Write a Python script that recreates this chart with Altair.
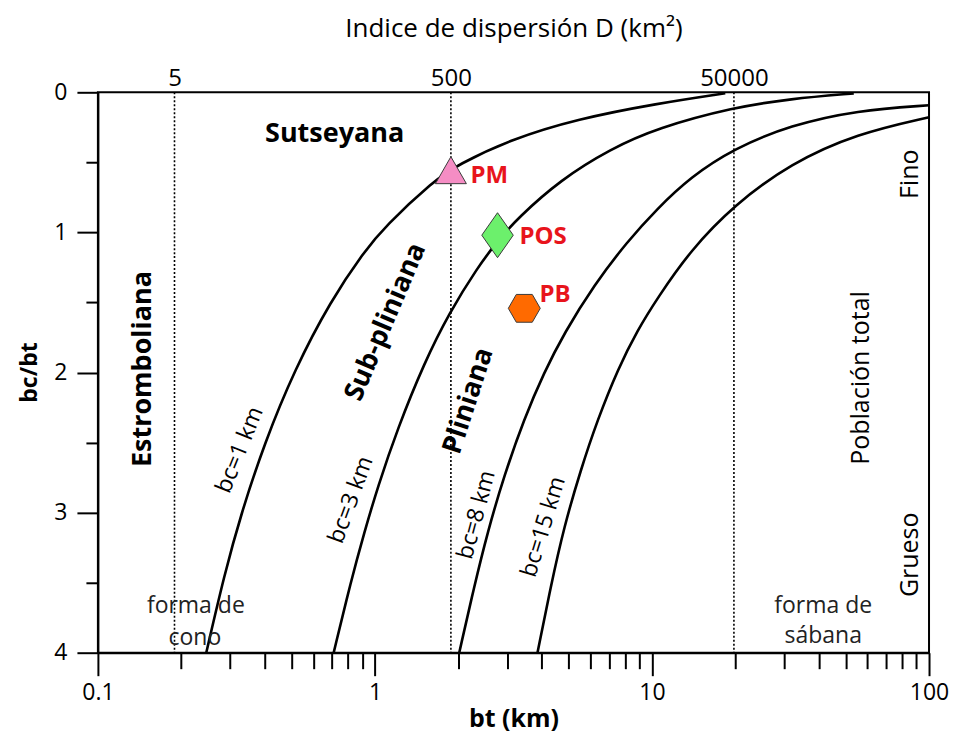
import altair as alt
import pandas as pd

FONT = "Open Sans"

# ---------------- data ----------------
curve_names = ["bc=1 km", "bc=3 km", "bc=8 km", "bc=15 km"]

bt_bc1 = [0.2461, 0.2863, 0.3286, 0.3991, 0.5132, 0.6921, 0.916, 1.081, 1.637, 1.987, 3.085, 5.381, 10.45, 18.39]
ratio_bc1 = [4.0, 3.44, 3.01, 2.505, 1.978, 1.488, 1.135, 0.962, 0.629, 0.518, 0.337, 0.190, 0.080, 0.007]

bt_bc3 = [0.7096, 0.819, 0.916, 1.022, 1.207, 1.507, 1.854, 2.346, 2.769, 3.269, 4.672, 7.076, 10.45, 19.76, 31.53, 53.5]
ratio_bc3 = [4.0, 3.49, 3.14, 2.82, 2.40, 1.93, 1.575, 1.25, 1.062, 0.90, 0.625, 0.405, 0.255, 0.107, 0.047, 0.008]

bt_bc8 = [2.015, 2.282, 2.549, 2.928, 3.456, 4.079, 4.818, 6.180, 8.147, 10.45, 13.78, 19.76, 31.62, 55.02, 100.0]
ratio_bc8 = [4.0, 3.527, 3.14, 2.735, 2.33, 2.0, 1.72, 1.375, 1.065, 0.83, 0.605, 0.401, 0.235, 0.128, 0.093]

bt_bc15 = [3.861, 4.311, 4.818, 5.531, 6.354, 7.561, 8.854, 10.45, 13.78, 19.76, 31.62, 55.02, 100.0]
ratio_bc15 = [4.0, 3.527, 3.099, 2.695, 2.339, 1.968, 1.70, 1.47, 1.127, 0.806, 0.508, 0.294, 0.178]

# dispersion index D (km2) reference lines
dispersion_labels = ["5", "500", "50000"]
dispersion_bt = [0.189, 1.88, 19.76]

# samples
sample_names = ["PM", "POS", "PB"]
sample_bt = [1.88, 2.77, 3.46]
sample_ratio = [0.556, 1.02, 1.542]
sample_label_bt = [2.213, 3.324, 3.925]
sample_label_ratio = [0.595, 1.030, 1.447]

# axis ticks
x_major = [0.1, 1, 10, 100]
x_minor = [0.2, 0.3, 0.4, 0.5, 0.6, 0.7, 0.8, 0.9,
           2, 3, 4, 5, 6, 7, 8, 9,
           20, 30, 40, 50, 60, 70, 80, 90]
y_major = [0, 1, 2, 3, 4]
y_minor = [0.5, 1.5, 2.5, 3.5]

# annotations (anchors in data units)
region_text = ["Sutseyana", "Estromboliana", "Sub-pliniana", "Pliniana"]
region_bt = [0.7155, 0.1453, 1.093, 2.177]
region_ratio = [0.297, 1.975, 1.640, 2.203]
region_angle = [0, 270, 293, 288]

curve_label_bt = [0.3252, 0.819, 2.327, 4.058]
curve_label_ratio = [2.553, 2.909, 3.016, 3.102]
curve_label_angle = [292, 290, 285, 287]

side_text = ["Población total", "Fino", "Grueso"]
side_bt = [56.9, 85.5, 85.5]
side_ratio = [2.039, 0.585, 3.301]

shape_text = ["forma de", "cono", "forma de", "sábana"]
shape_bt = [0.2257, 0.2238, 41.5, 41.5]
shape_ratio = [3.665, 3.893, 3.665, 3.879]

# ---------------- tables ----------------
curves = pd.concat([
    pd.DataFrame({"curve": curve_names[0], "bt": bt_bc1, "ratio": ratio_bc1}),
    pd.DataFrame({"curve": curve_names[1], "bt": bt_bc3, "ratio": ratio_bc3}),
    pd.DataFrame({"curve": curve_names[2], "bt": bt_bc8, "ratio": ratio_bc8}),
    pd.DataFrame({"curve": curve_names[3], "bt": bt_bc15, "ratio": ratio_bc15}),
], ignore_index=True)

disp = pd.DataFrame({"bt": dispersion_bt, "label": dispersion_labels})
samples = pd.DataFrame({"sample": sample_names, "bt": sample_bt, "ratio": sample_ratio})
sample_lbl = pd.DataFrame({"sample": sample_names, "bt": sample_label_bt, "ratio": sample_label_ratio})
regions = pd.DataFrame({"text": region_text, "bt": region_bt, "ratio": region_ratio, "angle": region_angle})
curve_lbl = pd.DataFrame({"text": curve_names, "bt": curve_label_bt, "ratio": curve_label_ratio, "angle": curve_label_angle})
sides = pd.DataFrame({"text": side_text, "bt": side_bt, "ratio": side_ratio})
shapes = pd.DataFrame({"text": shape_text, "bt": shape_bt, "ratio": shape_ratio})

# ---------------- scales & axes ----------------
xscale = alt.Scale(type="log", domain=[0.1, 100], nice=False)
yscale = alt.Scale(domain=[0, 4], reverse=True, nice=False)

top_expr = " : ".join(
    f"datum.value == {v} ? '{l}'" for v, l in zip(dispersion_bt[:-1], dispersion_labels[:-1])
) + f" : '{dispersion_labels[-1]}'"

top_axis = alt.Axis(orient="top", values=dispersion_bt, labelExpr=top_expr,
                    ticks=False, tickSize=0, domain=False, grid=False,
                    labelFont=FONT, labelFontSize=24, labelColor="black",
                    labelPadding=2, labelFlush=False,
                    titleFont=FONT, titleFontSize=26, titleFontWeight="normal",
                    titleColor="black", titleY=-64, titleBaseline="middle")

x_major_axis = alt.Axis(orient="bottom", values=x_major, format="~g",
                        tickSize=23, tickWidth=2, tickColor="black",
                        domainColor="black", domainWidth=2, grid=False,
                        labelFont=FONT, labelFontSize=23, labelColor="black",
                        labelPadding=6, labelFlush=False,
                        titleFont=FONT, titleFontSize=25, titleFontWeight="bold",
                        titleColor="black", titleY=66, titleBaseline="middle")

x_minor_axis = alt.Axis(orient="bottom", values=x_minor, tickSize=16, tickWidth=2,
                        tickColor="black", labels=False, domain=False, grid=False)

y_major_axis = alt.Axis(orient="left", values=y_major, format="d",
                        tickSize=21, tickWidth=2, tickColor="black",
                        domainColor="black", domainWidth=2, grid=False,
                        labelFont=FONT, labelFontSize=23, labelColor="black",
                        labelPadding=10, labelFlush=False,
                        titleFont=FONT, titleFontSize=23, titleFontWeight="bold",
                        titleColor="black", titleX=-68, titleY=280, titleAngle=270,
                        titleBaseline="middle", titleAlign="center")

y_minor_axis = alt.Axis(orient="left", values=y_minor, tickSize=12, tickWidth=2,
                        tickColor="black", labels=False, domain=False, grid=False)

# ---------------- layers ----------------
rules = alt.Chart(disp).mark_rule(color="black", strokeWidth=1.6, strokeDash=[2, 2]).encode(
    x=alt.X("bt:Q", scale=xscale, axis=top_axis, title="Indice de dispersión D (km²)")
)

lines = alt.Chart(curves).mark_line(color="black", strokeWidth=2.6, interpolate="basis").encode(
    x=alt.X("bt:Q", scale=xscale, axis=x_major_axis, title="bt (km)"),
    y=alt.Y("ratio:Q", scale=yscale, axis=y_major_axis, title="bc/bt"),
    detail="curve:N",
)

tri = "M0,-0.87L1,0.87L-1,0.87Z"
dia = "M0,-1L0.7,0L0,1L-0.7,0Z"
hexa = "M-1,0L-0.5,-0.87L0.5,-0.87L1,0L0.5,0.87L-0.5,0.87Z"

points = alt.Chart(samples).mark_point(filled=True, opacity=1, stroke="#3a3a3a", strokeWidth=1).encode(
    x=alt.X("bt:Q", scale=xscale, axis=x_minor_axis, title=None),
    y=alt.Y("ratio:Q", scale=yscale, axis=y_minor_axis, title=None),
    shape=alt.Shape("sample:N", scale=alt.Scale(domain=sample_names, range=[tri, dia, hexa]), legend=None),
    fill=alt.Fill("sample:N", scale=alt.Scale(domain=sample_names, range=["#F58DC4", "#6CF06C", "#FF6A00"]), legend=None),
    size=alt.Size("sample:N", scale=alt.Scale(type="ordinal", domain=sample_names, range=[961, 2025, 1024]), legend=None),
)

sample_text = alt.Chart(sample_lbl).mark_text(font=FONT, fontSize=24, fontWeight="bold",
                                              color="#E8141C", align="left", baseline="middle").encode(
    x=alt.X("bt:Q", scale=xscale, axis=None),
    y=alt.Y("ratio:Q", scale=yscale, axis=None),
    text="sample:N",
)

region_layer = alt.Chart(regions).mark_text(font=FONT, fontSize=27, fontWeight="bold", color="black",
                                            align="center", baseline="middle").encode(
    x=alt.X("bt:Q", scale=xscale, axis=None),
    y=alt.Y("ratio:Q", scale=yscale, axis=None),
    text="text:N",
    angle=alt.Angle("angle:Q", scale=None),
)

curve_label_layer = alt.Chart(curve_lbl).mark_text(font=FONT, fontSize=23, color="black",
                                                   align="center", baseline="middle").encode(
    x=alt.X("bt:Q", scale=xscale, axis=None),
    y=alt.Y("ratio:Q", scale=yscale, axis=None),
    text="text:N",
    angle=alt.Angle("angle:Q", scale=None),
)

side_layer = alt.Chart(sides).mark_text(font=FONT, fontSize=25, color="black", angle=270,
                                        align="center", baseline="middle").encode(
    x=alt.X("bt:Q", scale=xscale, axis=None),
    y=alt.Y("ratio:Q", scale=yscale, axis=None),
    text="text:N",
)

shape_layer = alt.Chart(shapes).mark_text(font=FONT, fontSize=23, color="#222222",
                                          align="center", baseline="middle").encode(
    x=alt.X("bt:Q", scale=xscale, axis=None),
    y=alt.Y("ratio:Q", scale=yscale, axis=None),
    text="text:N",
)

chart = alt.layer(
    rules, lines, points, sample_text, region_layer, curve_label_layer, side_layer, shape_layer
).resolve_axis(
    x="independent", y="independent"
).properties(
    width=832, height=561,
    autosize=alt.AutoSizeParams(type="none"),
    padding={"left": 90, "top": 84, "right": 20, "bottom": 84},
    background="white",
).configure_view(
    stroke="black", strokeWidth=2
)

chart.save("out.html", embed_options={"renderer": "svg", "actions": False})
